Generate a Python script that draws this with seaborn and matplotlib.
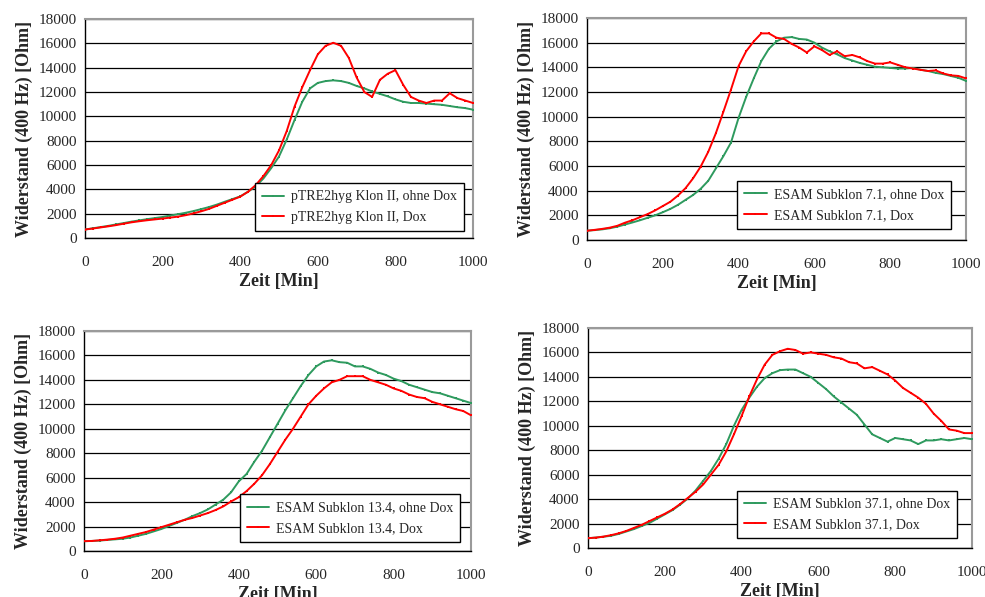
import numpy as np
import pandas as pd
import matplotlib
matplotlib.use("Agg")
import matplotlib.pyplot as plt
import seaborn as sns

# ---------------- data ----------------
zeit = list(range(0, 1001, 20))

p1_ohne = [700, 800, 900, 1000, 1120, 1230, 1350, 1450, 1550, 1640, 1730, 1850, 1960, 2080, 2220,
           2380, 2550, 2750, 2980, 3200, 3420, 3800, 4250, 4900, 5750, 6700, 8100, 9700, 11200, 12300,
           12750, 12900, 12960, 12900, 12750, 12500, 12300, 12050, 11850, 11650, 11400, 11200, 11100,
           11100, 11050, 11000, 10950, 10850, 10750, 10680, 10550]
p1_dox = [700, 780, 870, 960, 1060, 1180, 1290, 1380, 1460, 1530, 1600, 1680, 1760, 1880, 2030,
          2200, 2400, 2650, 2900, 3150, 3400, 3800, 4350, 5100, 6000, 7200, 8800, 10800, 12400, 13800,
          15100, 15800, 16050, 15800, 14800, 13200, 12000, 11600, 13000, 13500, 13800, 12600, 11600,
          11300, 11100, 11300, 11300, 11900, 11500, 11300, 11100]

p2_ohne = [750, 800, 860, 950, 1080, 1250, 1420, 1600, 1800, 2000, 2250, 2520, 2850, 3250, 3650,
           4150, 4800, 5800, 6800, 7900, 9900, 11600, 13100, 14500, 15500, 16100, 16400, 16450, 16300,
           16250, 16000, 15600, 15300, 15050, 14750, 14550, 14350, 14200, 14050, 14000, 13950, 13900,
           13900, 13950, 13800, 13700, 13550, 13450, 13300, 13150, 12900]
p2_dox = [750, 820, 900, 1000, 1150, 1400, 1600, 1850, 2100, 2400, 2750, 3100, 3600, 4200, 5000,
          5950, 7150, 8650, 10400, 12200, 14100, 15300, 16100, 16750, 16750, 16400, 16300, 15900,
          15600, 15200, 15700, 15400, 15000, 15300, 14900, 15000, 14800, 14500, 14300, 14300, 14400,
          14200, 14000, 13900, 13800, 13700, 13750, 13500, 13350, 13300, 13100]

p3_ohne = [800, 820, 850, 900, 950, 1000, 1100, 1250, 1400, 1600, 1800, 2050, 2300, 2550, 2850,
           3100, 3400, 3800, 4200, 4800, 5700, 6300, 7300, 8200, 9300, 10400, 11500, 12500, 13500,
           14400, 15100, 15500, 15600, 15450, 15400, 15100, 15100, 14900, 14600, 14400, 14100, 13900,
           13600, 13400, 13200, 13000, 12900, 12700, 12500, 12300, 12100]
p3_dox = [800, 820, 870, 930, 1000, 1100, 1250, 1400, 1550, 1750, 1950, 2150, 2350, 2550, 2700,
          2900, 3100, 3350, 3650, 4050, 4400, 4900, 5500, 6200, 7100, 8100, 9100, 10000, 11000,
          12000, 12700, 13300, 13800, 14000, 14300, 14300, 14300, 14000, 13800, 13600, 13300, 13100,
          12800, 12600, 12500, 12200, 12000, 11800, 11600, 11450, 11100]

p4_ohne = [800, 850, 920, 1000, 1150, 1350, 1550, 1800, 2050, 2400, 2750, 3100, 3550, 4050, 4700,
           5500, 6300, 7300, 8500, 10000, 11300, 12300, 13200, 13900, 14300, 14550, 14600, 14600,
           14300, 14000, 13500, 13000, 12400, 11900, 11400, 10900, 10100, 9300, 9000, 8700, 9000,
           8900, 8800, 8500, 8800, 8800, 8900, 8800, 8900, 9000, 8900]
p4_dox = [800, 850, 930, 1050, 1200, 1400, 1650, 1900, 2200, 2500, 2800, 3150, 3600, 4100, 4600,
          5200, 6000, 6800, 7900, 9300, 10800, 12400, 13800, 15000, 15800, 16100, 16300, 16200,
          15900, 16000, 15900, 15800, 15600, 15500, 15200, 15100, 14700, 14800, 14500, 14200, 13700,
          13100, 12700, 12300, 11800, 11000, 10400, 9700, 9600, 9400, 9400]

labels = [
    ("pTRE2hyg Klon II, ohne Dox", "pTRE2hyg Klon II, Dox"),
    ("ESAM Subklon 7.1, ohne Dox", "ESAM Subklon 7.1, Dox"),
    ("ESAM Subklon 13.4, ohne Dox", "ESAM Subklon 13.4, Dox"),
    ("ESAM Subklon 37.1, ohne Dox", "ESAM Subklon 37.1, Dox"),
]
series = [(p1_ohne, p1_dox), (p2_ohne, p2_dox), (p3_ohne, p3_dox), (p4_ohne, p4_dox)]

x_ticks = [0, 200, 400, 600, 800, 1000]
y_ticks = list(range(0, 18001, 2000))

# ---------------- style ----------------
sns.set_style("white")
plt.rcParams['font.family'] = ['Liberation Serif', 'DejaVu Serif']

GREEN = "#2E9A5E"
RED = "#FF0000"

fig = plt.figure(figsize=(9.85, 5.97), dpi=100)
positions = [
    [0.0863, 0.6013, 0.3939, 0.3668],
    [0.5959, 0.5980, 0.3848, 0.3719],
    [0.0853, 0.0771, 0.3929, 0.3685],
    [0.5970, 0.0821, 0.3898, 0.3685],
]
leg_anchor = [(0.977, 0.032), (0.960, 0.05), (0.972, 0.041), (0.961, 0.045)]

for i, pos in enumerate(positions):
    ax = fig.add_axes(pos)
    ohne, dox = series[i]
    lab_o, lab_d = labels[i]
    df = pd.DataFrame({
        "Zeit": zeit + zeit,
        "Widerstand": ohne + dox,
        "Serie": [lab_o] * len(zeit) + [lab_d] * len(zeit),
    })
    sns.lineplot(data=df, x="Zeit", y="Widerstand", hue="Serie",
                 palette={lab_o: GREEN, lab_d: RED}, ax=ax,
                 marker="s", markersize=1.8, markeredgewidth=0, linewidth=1.4,
                 zorder=3, legend=True)
    ax.set_xlim(0, 1000)
    ax.set_ylim(0, 18000)
    ax.set_xticks(x_ticks)
    ax.set_yticks(y_ticks)
    ax.set_xticklabels([str(v) for v in x_ticks], fontsize=11)
    ax.set_yticklabels([str(v) for v in y_ticks], fontsize=11)
    ax.yaxis.grid(True, color="black", linewidth=0.9)
    ax.xaxis.grid(False)
    ax.set_axisbelow(True)
    for s in ["left", "bottom"]:
        ax.spines[s].set_color("black")
        ax.spines[s].set_linewidth(1.0)
    for s in ["top", "right"]:
        ax.spines[s].set_color("#9a9a9a")
        ax.spines[s].set_linewidth(1.5)
    ax.tick_params(axis="both", direction="out", length=4, width=1, color="black")
    ax.tick_params(axis="x", pad=9)
    ax.tick_params(axis="y", pad=2)
    ax.set_xlabel("Zeit [Min]", fontsize=13, fontweight="bold", labelpad=3)
    ax.set_ylabel("Widerstand (400 Hz) [Ohm]", fontsize=13, fontweight="bold", labelpad=4)
    leg = ax.legend(loc="lower right", bbox_to_anchor=leg_anchor[i], fontsize=10,
                    frameon=True, fancybox=False, edgecolor="black", framealpha=1,
                    handlelength=1.6, handletextpad=0.5, borderpad=0.5, labelspacing=0.55,
                    borderaxespad=0)
    leg.get_frame().set_linewidth(1.0)
    leg.set_zorder(5)

fig.savefig("out.png", dpi=100)
